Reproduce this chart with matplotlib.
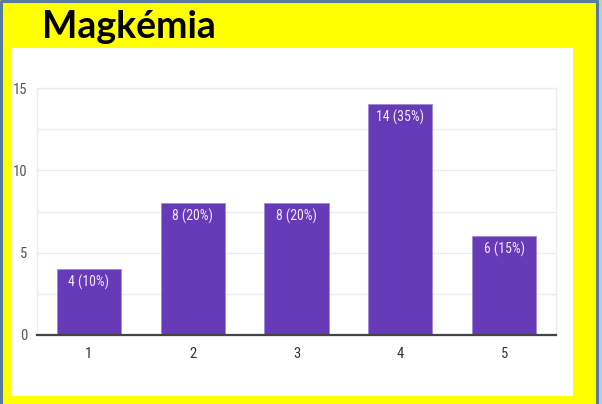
import matplotlib
matplotlib.use("Agg")
import matplotlib.pyplot as plt
from matplotlib.patches import Rectangle
from matplotlib.ticker import MultipleLocator

categories = ["1", "2", "3", "4", "5"]
counts = [4, 8, 8, 14, 6]
percents = [10, 20, 20, 35, 15]
yticks = [0, 5, 10, 15]
title = "Magkémia"

NARROW = ["Roboto Condensed", "Archivo Narrow", "Asap Condensed", "DejaVu Sans"]

W, H = 602, 404
fig = plt.figure(figsize=(W / 100, H / 100), dpi=100)
fig.patch.set_facecolor("#FFFF00")

bg = fig.add_axes([0, 0, 1, 1], zorder=-5)
bg.set_xlim(0, W)
bg.set_ylim(H, 0)
bg.axis("off")
bg.add_patch(Rectangle((597, 0), 5, H, facecolor="#b7cbe6", edgecolor="none"))
bg.plot([1, 1, 597, 597], [H, 1, 1, H], color="#5a7aa0", linewidth=2.2)
bg.add_patch(Rectangle((11, 48), 562, 348, facecolor="white", edgecolor="none"))
bg.text(42, 38, title, fontsize=27, fontweight="bold", family="Lato",
        color="black", ha="left", va="baseline")

ax = fig.add_axes([37 / W, 1 - 335 / H, (556 - 37) / W, (335 - 88) / H], zorder=1)
ax.set_facecolor("white")
x = list(range(len(categories)))
ax.bar(x, counts, width=0.62, color="#673AB7", edgecolor="#9c84d0",
       linewidth=0.5, zorder=3)
for xi, c, p in zip(x, counts, percents):
    ax.annotate(f"{c} ({p}%)", (xi, c), xytext=(0, -4), textcoords="offset points",
                ha="center", va="top", fontsize=10, color="#f0eafa",
                family=NARROW, zorder=4)

ax.set_xlim(-0.5, len(categories) - 0.5)
ax.set_ylim(0, 15)
ax.set_xticks(x)
ax.set_xticklabels(categories)
ax.set_yticks(yticks)
ax.yaxis.set_minor_locator(MultipleLocator(2.5))
ax.grid(True, which="both", axis="y", color="#ececec", linewidth=1, zorder=0)
ax.set_axisbelow(True)
for s in ["top", "right", "left"]:
    ax.spines[s].set_color("#ececec")
    ax.spines[s].set_linewidth(1)
ax.spines["bottom"].set_color("#444444")
ax.spines["bottom"].set_linewidth(1.6)
ax.spines["bottom"].set_zorder(5)
ax.tick_params(axis="both", which="both", length=0)
ax.tick_params(axis="x", pad=9, labelcolor="#333333")
ax.tick_params(axis="y", pad=7, labelcolor="#555555")
for lab in ax.get_xticklabels() + ax.get_yticklabels():
    lab.set_family(NARROW)
    lab.set_fontsize(10.5)

fig.savefig("out.png", dpi=100, facecolor=fig.get_facecolor())
